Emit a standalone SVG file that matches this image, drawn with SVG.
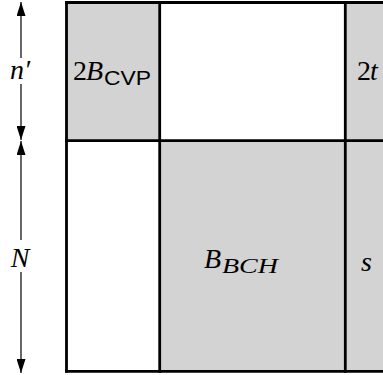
<svg xmlns="http://www.w3.org/2000/svg" width="383" height="375" viewBox="0 0 383 375">
<defs>
<style>
.g{fill:#d3d3d3;stroke:none}
.w{fill:#ffffff;stroke:none}
.b{stroke:#000;stroke-width:2.8;fill:none;stroke-linecap:square}
.ax{stroke:#000;stroke-width:1.2;fill:none}
.m{font-family:"Liberation Serif","DejaVu Serif",serif;font-style:italic;font-size:28px;fill:#000}
.r{font-family:"Liberation Serif","DejaVu Serif",serif;font-style:normal;font-size:28px;fill:#000}
.ss{font-family:"Liberation Sans","DejaVu Sans",sans-serif;font-size:20px;fill:#000}
.si{font-family:"Liberation Serif","DejaVu Serif",serif;font-style:italic;font-size:21px;fill:#000}
</style>
<marker id="ah" viewBox="0 0 10 10" refX="10" refY="5" markerWidth="14" markerHeight="9" markerUnits="userSpaceOnUse" orient="auto" preserveAspectRatio="none">
<path d="M0,0 L10,5 L0,10 Z" fill="#000"/>
</marker>
</defs>
<rect width="383" height="375" fill="#fff"/>
<g id="cell-2BCVP">
<rect class="g" x="66.5" y="2.5" width="93" height="138"/>
<text class="r" x="73" y="80">2</text>
<text class="m" x="86" y="80">B</text>
<text class="ss" x="104" y="85" textLength="47" lengthAdjust="spacingAndGlyphs">CVP</text>
</g>
<g id="cell-top-mid">
<rect class="w" x="159.5" y="2.5" width="186" height="138"/>
</g>
<g id="cell-2t">
<rect class="g" x="345.5" y="2.5" width="40" height="138"/>
<text class="r" x="357" y="80">2</text>
<text class="m" x="370" y="80">t</text>
</g>
<g id="cell-bottom-left">
<rect class="w" x="66.5" y="140.5" width="93" height="231"/>
</g>
<g id="cell-BBCH">
<rect class="g" x="159.5" y="140.5" width="186" height="231"/>
<text class="m" x="204" y="268">B</text>
<text class="si" x="222" y="273" textLength="56" lengthAdjust="spacingAndGlyphs">BCH</text>
</g>
<g id="cell-s">
<rect class="g" x="345.5" y="140.5" width="40" height="231"/>
<text class="m" x="361" y="271">s</text>
</g>
<g id="grid">
<line class="b" x1="66.5" y1="2.5" x2="390" y2="2.5"/>
<line class="b" x1="66.5" y1="371.3" x2="390" y2="371.3"/>
<line class="b" x1="66.5" y1="140.7" x2="390" y2="140.7"/>
<line class="b" x1="66.5" y1="2.5" x2="66.5" y2="371.3"/>
<line class="b" x1="159.7" y1="2.5" x2="159.7" y2="371.3"/>
<line class="b" x1="345.3" y1="2.5" x2="345.3" y2="371.3"/>
</g>
<g id="connectors">
<line class="ax" x1="21" y1="58" x2="21" y2="2" marker-end="url(#ah)"/>
<line class="ax" x1="21" y1="84" x2="21" y2="140" marker-end="url(#ah)"/>
<line class="ax" x1="21" y1="240" x2="21" y2="141" marker-end="url(#ah)"/>
<line class="ax" x1="21" y1="272" x2="21" y2="373" marker-end="url(#ah)"/>
</g>
<g id="labels">
<text class="m" x="20" y="79" text-anchor="middle">n′</text>
<text class="m" x="20" y="267" text-anchor="middle">N</text>
</g>
</svg>
